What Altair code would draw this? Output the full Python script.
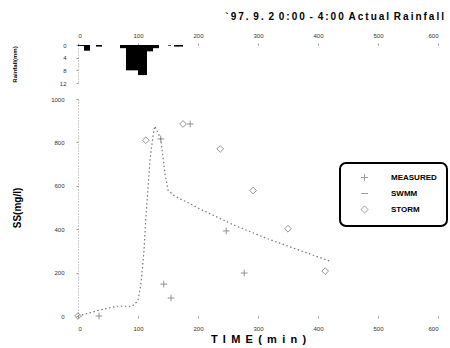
import altair as alt
import pandas as pd

# Rainfall hyetograph (mm per interval)
rain_start = [0, 10, 30, 70, 80, 100, 115, 125, 150, 160]
rain_end = [10, 20, 40, 80, 100, 115, 125, 135, 155, 175]
rain_mm = [0.3, 1.8, 0.5, 1.0, 8.0, 9.5, 2.0, 1.0, 0.2, 0.5]

# SWMM simulated SS (mg/l)
swmm_t = [0, 40, 65, 90, 100, 105, 110, 113, 117, 120, 125, 128, 138, 145, 150,
          160, 170, 185, 202, 260, 313, 382, 420]
swmm_v = [0, 30, 45, 45, 70, 150, 300, 450, 600, 720, 830, 875, 815, 655, 580,
          555, 540, 520, 495, 419, 359, 290, 253]

# Measured SS (mg/l)
meas_t = [35, 138, 143, 155, 187, 247, 277]
meas_v = [0, 816, 147, 83, 885, 392, 198]

# STORM simulated SS (mg/l)
storm_t = [0, 113, 175, 237, 292, 350, 412]
storm_v = [0, 810, 885, 770, 578, 402, 207]

ticks_x = [0, 100, 200, 300, 400, 500, 600]
ticks_y = [0, 200, 400, 600, 800, 1000]
ticks_rain = [0, 4, 8, 12]
series = ["MEASURED", "SWMM", "STORM"]

rain_df = pd.DataFrame({"start": rain_start, "end": rain_end, "mm": rain_mm})
swmm_df = pd.DataFrame({"t": swmm_t, "v": swmm_v, "series": "SWMM"})
pts_df = pd.concat([
    pd.DataFrame({"t": meas_t, "v": meas_v, "series": "MEASURED"}),
    pd.DataFrame({"t": storm_t, "v": storm_v, "series": "STORM"}),
])

FONT = "Liberation Sans"
NB = "\u00a0"
THIN = "\u2009"


def spaced(s, gap):
    return gap.join(list(s))


axis_common = dict(
    labelFontSize=6, labelColor="#333", labelFont=FONT,
    domainColor="#999", domainDash=[1, 2], tickColor="#999", tickSize=2,
    grid=False, titleFont=FONT, titleFontWeight="bold", titleColor="black",
    format="d",
)

xscale = alt.Scale(domain=[0, 600], nice=False)

rain = alt.Chart(rain_df).mark_rect(color="black").encode(
    x=alt.X("start:Q", scale=xscale,
            axis=alt.Axis(orient="top", values=ticks_x, title=None, labelPadding=5,
                          domain=False, **axis_common)),
    x2="end:Q",
    y=alt.Y("mm:Q", scale=alt.Scale(domain=[0, 12], reverse=True, nice=False),
            axis=alt.Axis(values=ticks_rain, title="Rainfall(mm)", titleFontSize=6,
                          labelPadding=10, titlePadding=42, **axis_common)),
    y2=alt.datum(0),
).properties(width=360, height=38)

shape_scale = alt.Scale(domain=series,
                        range=["M-1,0L1,0M0,-1L0,1", "M-1,0L1,0", "diamond"])

xtitle = spaced("TIME(min)", NB + THIN)

line = alt.Chart(swmm_df).mark_line(color="#777", strokeDash=[1.5, 2.5], strokeWidth=1.2).encode(
    x=alt.X("t:Q", scale=xscale,
            axis=alt.Axis(values=ticks_x, title=xtitle,
                          titleFontSize=11, labelPadding=7, titlePadding=2,
                          domain=False, **axis_common)),
    y=alt.Y("v:Q", scale=alt.Scale(domain=[0, 1000], nice=False),
            axis=alt.Axis(values=ticks_y, title="SS(mg/l)", titleFontSize=10,
                          labelPadding=12, titlePadding=28, **axis_common)),
)

points = alt.Chart(pts_df).mark_point(filled=False, color="#666", strokeWidth=1).encode(
    x="t:Q",
    y="v:Q",
    shape=alt.Shape("series:N", scale=shape_scale,
                    legend=alt.Legend(title=None, orient="none", legendX=262, legendY=118,
                                      strokeColor="black", cornerRadius=6, padding=10,
                                      symbolOffset=10, labelOffset=22,
                                      labelFont=FONT, labelFontWeight="bold",
                                      labelFontSize=8, labelColor="black",
                                      symbolStrokeColor="#777", symbolStrokeWidth=1,
                                      symbolSize=50, rowPadding=5,
                                      values=series)),
    size=alt.value(45),
)

main = alt.layer(line, points).properties(width=360, height=217)

title_text = (NB + THIN).join([spaced("`97.", THIN), spaced("9.", THIN), "2",
                               spaced("0:00", THIN), "-", spaced("4:00", THIN),
                               spaced("Actual", THIN), spaced("Rainfall", THIN)])

chart = alt.vconcat(rain, main, spacing=10).properties(
    title=alt.TitleParams(title_text, anchor="end", font=FONT, fontSize=10,
                          fontWeight="bold", color="black", offset=10, dx=-4),
    padding={"left": 11, "top": 12, "right": 0, "bottom": 5},
).configure_view(stroke=None).configure_legend(strokeWidth=2)

chart.save("out.html", embed_options={"renderer": "svg", "actions": False})
